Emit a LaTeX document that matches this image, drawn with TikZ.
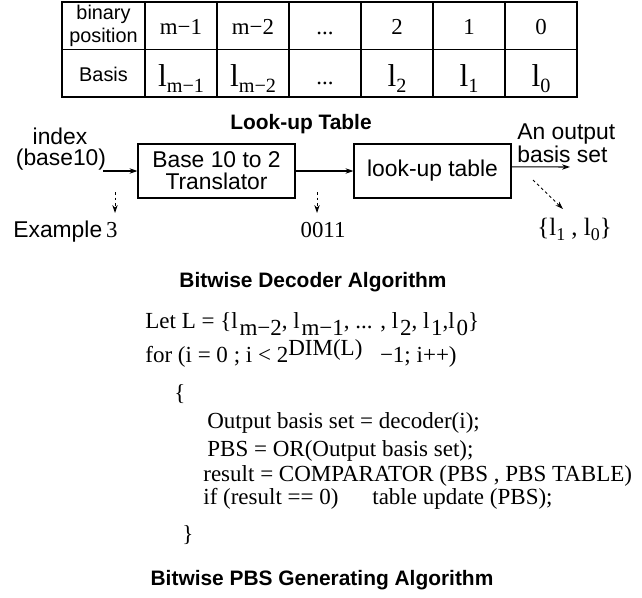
\documentclass[tikz,border=0pt]{standalone}
\usepackage{fontspec}
\setmainfont{Liberation Serif}
\setsansfont{Liberation Sans}
\usetikzlibrary{arrows.meta, positioning}

\newcommand{\lsub}[2][11.5]{l\raisebox{-3pt}{\fontsize{#1}{#1}\selectfont #2}}
\newcommand{\dn}[1]{\raisebox{-4pt}{#1}}
\newcommand{\up}[1]{\raisebox{3.5pt}{#1}}

\begin{document}
\begin{tikzpicture}[x=0.02cm, y=-0.02cm,
    cell/.style={draw, line width=0.6pt, inner sep=0pt, minimum width=1.44cm, minimum height=0.95cm},
    hcell/.style={cell, minimum width=1.66cm, font=\sffamily\fontsize{11.3}{13}\selectfont, align=center},
    ncell/.style={cell, font=\fontsize{13}{15}\selectfont, text height=0.37cm, text depth=0pt},
    lcell/.style={cell, font=\fontsize{18}{18}\selectfont, text height=0.55cm, text depth=0pt},
    blk/.style={draw, line width=0.6pt, minimum width=3.14cm, minimum height=1.08cm, align=center, font=\sffamily\fontsize{13}{12.5}\selectfont},
    lbl/.style={font=\sffamily\fontsize{13}{15}\selectfont, inner sep=0pt},
    ttl/.style={font=\sffamily\bfseries\fontsize{11.9}{14}\selectfont, inner sep=0pt, anchor=base},
    codeln/.style={font=\fontsize{13.1}{15}\selectfont, inner sep=0pt, anchor=base west},
    arr/.style={-{Stealth[length=4.5pt, width=3pt]}, line width=0.6pt},
    darr/.style={arr, line width=0.5pt, dashed, dash pattern=on 1.6pt off 1.6pt},
]
\useasboundingbox (0,0) rectangle (642,598);

% table
\node[hcell] (pos) at (103.5,25.75) {binary\\position};
\node[ncell] (p1) at (181,25.75) {m−1};
\node[ncell] (p2) at (253,25.75) {m−2};
\node[ncell] (p3) at (325,25.75) {...};
\node[ncell] (p4) at (397,25.75) {2};
\node[ncell] (p5) at (469,25.75) {1};
\node[ncell] (p6) at (541,25.75) {0};
\node[hcell, text height=0.35cm, text depth=0pt] (bas) at (103.5,73.25) {Basis};
\node[lcell] (b1) at (181,73.25) {\lsub{m−1}};
\node[lcell] (b2) at (253,73.25) {\lsub{m−2}};
\node[ncell, text height=0.47cm] (b3) at (325,73.25) {...};
\node[lcell] (b4) at (397,73.25) {\lsub{2}};
\node[lcell] (b5) at (469,73.25) {\lsub{1}};
\node[lcell] (b6) at (541,73.25) {\lsub{0}};

\node[ttl] (lutttl) at (301,130) {Look-up Table};

% decoder
\node[lbl, anchor=base] (idx) at (60,144) {index};
\node[lbl, anchor=base] (idxb) at (61,165) {(base10)};
\node[blk] (trans) at (216.5,171) {Base 10 to 2\\Translator};
\node[blk] (lut) at (432.5,171) {look-up table};
\node[lbl, anchor=base west] (outa) at (517,139) {An output};
\node[lbl, anchor=base west] (outb) at (517,162) {basis set};
\node[lbl, anchor=base west] (ex) at (13,237) {Example\,{\rmfamily 3}};
\node[anchor=base, inner sep=0pt, font=\fontsize{13}{15}\selectfont] (bits) at (323,237) {0011};
\node[anchor=base west, inner sep=0pt, font=\fontsize{14.2}{15}\selectfont] (set) at (537,235) {\{\lsub[10.2]{1} , \lsub[10.2]{0}\}};

\coordinate (idxend) at (103,171);
\coordinate (outend) at (570,167);
\coordinate (extop) at (115,192);
\coordinate (exbot) at (115,213);
\coordinate (bitstop) at (317,192);
\coordinate (bitsbot) at (317,213);
\coordinate (settop) at (533,180);
\coordinate (setbot) at (563,209);

\draw[arr] (idxend) -- (trans);
\draw[arr] (trans) -- (lut);
\draw[arr] (lut.3) -- (outend);
\draw[darr] (extop) -- (exbot);
\draw[darr] (bitstop) -- (bitsbot);
\draw[darr] (settop) -- (setbot);

\node[ttl] (decttl) at (313,287) {Bitwise Decoder Algorithm};

% algorithm
\node[codeln] (let) at (145,328) {Let L = \{l\hspace{1pt}\dn{m−2}, l\hspace{1pt}\dn{m−1}, ... , l\hspace{1pt}\dn{2}, l\hspace{1pt}\dn{1},l\hspace{1pt}\dn{0}\}};
\node[codeln] (for) at (145,362) {for (i = 0 ; i < 2\up{DIM(L)}\hspace{10pt}−1; i++)};
\node[codeln] (ob) at (174,400) {\{};
\node[codeln] (ln1) at (207,428) {Output basis set = decoder(i);};
\node[codeln] (ln2) at (207,456) {PBS = OR(Output basis set);};
\node[codeln] (ln3) at (203,481) {result = COMPARATOR (PBS , PBS TABLE)};
\node[codeln] (ln4) at (203,504) {if (result == 0)};
\node[codeln] (ln5) at (372,504) {table update (PBS);};
\node[codeln] (cb) at (182,541) {\}};

\node[ttl] (pbsttl) at (322,585) {Bitwise PBS Generating Algorithm};

\end{tikzpicture}
\end{document}
